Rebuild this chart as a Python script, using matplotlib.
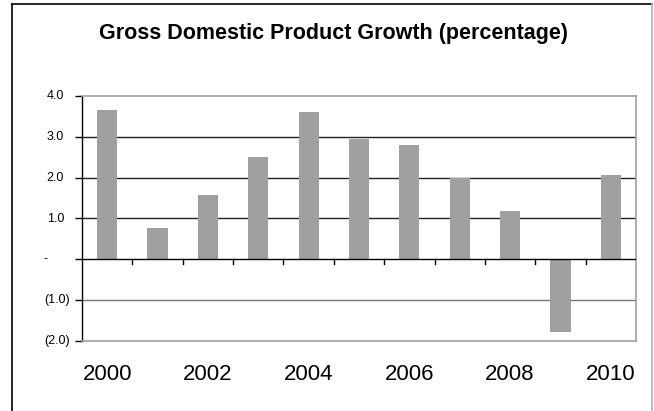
import numpy as np
import matplotlib.pyplot as plt
import matplotlib.transforms as mtransforms
from matplotlib.lines import Line2D

plt.rcParams['font.family'] = ['Liberation Sans', 'DejaVu Sans']

years = [2000, 2001, 2002, 2003, 2004, 2005, 2006, 2007, 2008, 2009, 2010]
growth = [3.65, 0.77, 1.57, 2.5, 3.6, 2.94, 2.8, 2.0, 1.18, -1.78, 2.06]
yticks = [-2.0, -1.0, 0.0, 1.0, 2.0, 3.0, 4.0]
ylabels = ['(2.0)', '(1.0)', '-', '1.0', '2.0', '3.0', '4.0']

W, H = 654, 411
fig = plt.figure(figsize=(W / 100, H / 100), dpi=100)
ax = fig.add_axes([82 / W, 1 - 341 / H, (636 - 82) / W, (341 - 96) / H])

x = np.arange(len(years))
ax.bar(x, growth, width=0.4, color='#a0a0a0', zorder=3)

ax.set_xlim(-0.5, len(years) - 0.5)
ax.set_ylim(-2, 4)
ax.set_yticks(yticks)
ax.set_yticklabels([])
ax.tick_params(axis='y', direction='out', length=5, width=1, color='black')
ax.set_xticks([])

# y labels, accounting style alignment
trans = mtransforms.blended_transform_factory(fig.transFigure, ax.transData)
for v, lab in zip(yticks, ylabels):
    if lab == '-':
        ax.text(45.5 / W, v, lab, ha='center', va='center', fontsize=9, transform=trans)
    elif lab.startswith('('):
        ax.text(69.5 / W, v, lab, ha='right', va='center', fontsize=9, transform=trans)
    else:
        ax.text(64 / W, v, lab, ha='right', va='center', fontsize=9, transform=trans)

# gridlines
for v in [1, 2, 3]:
    ax.axhline(v, color='#222222', lw=1, zorder=1)
ax.axhline(-1, color='#777777', lw=1, zorder=1)
ax.axhline(0, color='black', lw=1, zorder=4)

# category ticks on the zero line
for b in np.arange(0.5, len(years) - 0.5, 1):
    ax.plot([b, b], [0, -0.12], color='black', lw=1, zorder=4, clip_on=False)

# year labels every second year
for i, yr in enumerate(years):
    if yr % 2 == 0:
        ax.text(i, -2.955, str(yr), ha='center', va='baseline', fontsize=16)

for s in ['top', 'right', 'bottom']:
    ax.spines[s].set_color('#a0a0a0')
    ax.spines[s].set_linewidth(1.2)
ax.spines['left'].set_color('black')
ax.spines['left'].set_linewidth(1)

fig.text(333.5 / W, 1 - 39 / H, 'Gross Domestic Product Growth (percentage)',
         ha='center', va='baseline', fontsize=15.5, fontweight='bold')

# outer chart frame
fig.add_artist(Line2D([12 / W, 12 / W], [0, 1 - 4 / H], color='black', lw=1.2))
fig.add_artist(Line2D([12 / W, 652 / W], [1 - 4 / H, 1 - 4 / H], color='black', lw=1.2))
fig.add_artist(Line2D([652 / W, 652 / W], [0, 1 - 4 / H], color='#b0b0b0', lw=1.2))

fig.savefig('out.png', dpi=100)
